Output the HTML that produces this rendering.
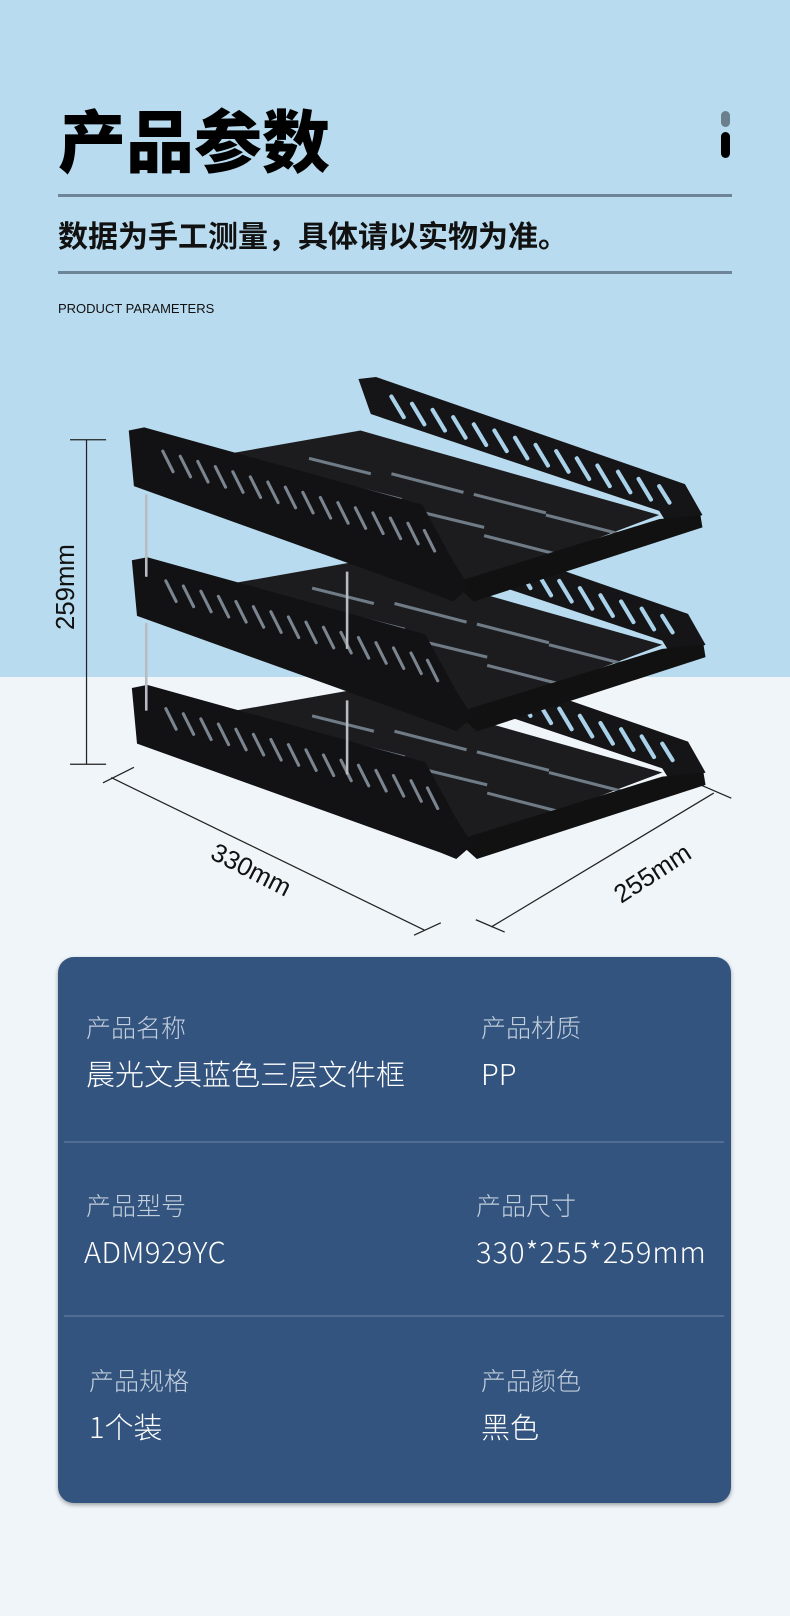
<!DOCTYPE html>
<html><head><meta charset="utf-8">
<style>
*{margin:0;padding:0;box-sizing:border-box}
body{width:790px;height:1616px;position:relative;overflow:hidden;background:#eff5f9;font-family:"Liberation Sans","Noto Sans CJK SC",sans-serif}
.top{position:absolute;left:0;top:0;width:790px;height:677px;background:#b8dbef}
.abs{position:absolute;white-space:nowrap}
.line{position:absolute;left:58px;width:674px;height:3px;background:#6d8597}
.card{position:absolute;left:58px;top:957px;width:673px;height:546px;background:#33547f;border-radius:16px;box-shadow:0 2px 4px rgba(0,0,0,.35)}
.div{position:absolute;left:6px;width:660px;height:2px;background:#4f6d95}
.lab{position:absolute;color:#c3cfdd;font-size:25px;font-family:"Noto Sans CJK SC",sans-serif;font-weight:300;white-space:nowrap;line-height:1}
.val{position:absolute;color:#fff;font-size:29px;font-family:"Noto Sans CJK SC",sans-serif;font-weight:300;white-space:nowrap;line-height:1}
</style></head><body>
<div class="top"></div>
<div class="abs" style="left:58px;top:104px;font-size:68px;font-weight:900;font-family:'Noto Sans CJK SC',sans-serif;line-height:1;color:#000">产品参数</div>
<div class="abs" style="left:721px;top:111px;width:9px;height:16px;border-radius:5px;background:#6c7f8c"></div>
<div class="abs" style="left:721px;top:132px;width:9px;height:26px;border-radius:5px;background:#000"></div>
<div class="line" style="top:194px"></div>
<div class="abs" style="left:58px;top:218px;font-size:30px;font-weight:700;font-family:'Noto Sans CJK SC',sans-serif;line-height:1.1;color:#111">数据为手工测量，具体请以实物为准。</div>
<div class="line" style="top:271px"></div>
<div class="abs" style="left:58px;top:301px;font-size:13px;color:#111">PRODUCT PARAMETERS</div>

<svg class="abs" style="left:0;top:0" width="790" height="1616" viewBox="0 0 767 1569">
 <g stroke="#222" stroke-width="1.2" fill="none">
  <line x1="84" y1="427" x2="84" y2="742"/><line x1="68" y1="427" x2="103" y2="427"/><line x1="68" y1="742" x2="103" y2="742"/>
  <line x1="108" y1="755" x2="412" y2="903"/><line x1="100" y1="760" x2="130" y2="745"/><line x1="402" y1="908" x2="428" y2="896"/>
  <line x1="477" y1="900" x2="693" y2="770"/><line x1="462" y1="893" x2="490" y2="905"/><line x1="680" y1="762" x2="710" y2="775"/>
 </g>
 <text x="0" y="0" transform="translate(72,570) rotate(-90)" text-anchor="middle" font-family="Liberation Sans,sans-serif" font-size="25" fill="#111">259mm</text>
 <text x="0" y="0" transform="translate(240,852) rotate(27)" text-anchor="middle" font-family="Liberation Sans,sans-serif" font-size="25" fill="#111">330mm</text>
 <text x="0" y="0" transform="translate(638,855) rotate(-33)" text-anchor="middle" font-family="Liberation Sans,sans-serif" font-size="25" fill="#111">255mm</text>
 <defs>
  <g id="tray">
   <polygon points="140,455 350,418 640,500 450,572" fill="#1c1c1e"/>
   <g stroke="#6f7b86" stroke-width="3">
    <line x1="250" y1="450" x2="300" y2="462"/><line x1="300" y1="445" x2="360" y2="460"/><line x1="330" y1="470" x2="390" y2="485"/><line x1="380" y1="460" x2="450" y2="478"/><line x1="400" y1="495" x2="470" y2="512"/><line x1="460" y1="480" x2="530" y2="498"/><line x1="470" y1="520" x2="540" y2="538"/><line x1="530" y1="500" x2="600" y2="518"/>
   </g>
   <polygon points="348,368 365,366 665,470 682,500 650,512 640,496 360,402" fill="#151517"/>
   <g stroke="#a9d2ea" stroke-width="4" stroke-linecap="round">
    <line x1="380" y1="385" x2="392" y2="405"/><line x1="400" y1="392" x2="412" y2="412"/><line x1="420" y1="398" x2="432" y2="418"/><line x1="440" y1="405" x2="452" y2="425"/><line x1="460" y1="412" x2="472" y2="432"/><line x1="480" y1="418" x2="492" y2="438"/><line x1="500" y1="425" x2="512" y2="445"/><line x1="520" y1="432" x2="532" y2="452"/><line x1="540" y1="438" x2="552" y2="458"/><line x1="560" y1="445" x2="572" y2="465"/><line x1="580" y1="452" x2="592" y2="472"/><line x1="600" y1="458" x2="612" y2="478"/><line x1="620" y1="465" x2="632" y2="485"/><line x1="640" y1="472" x2="650" y2="488"/>
   </g>
   <polygon points="440,566 640,504 680,500 682,512 460,584" fill="#111"/>
   <polygon points="125,418 140,415 410,490 440,545 456,570 440,584 425,578 130,472" fill="#121214"/>
   <g stroke="#7b8590" stroke-width="3" stroke-linecap="round">
    <line x1="158" y1="438" x2="168" y2="458"/><line x1="175" y1="443" x2="185" y2="463"/><line x1="192" y1="448" x2="202" y2="468"/><line x1="209" y1="453" x2="219" y2="473"/><line x1="226" y1="458" x2="236" y2="478"/><line x1="243" y1="463" x2="253" y2="483"/><line x1="260" y1="468" x2="270" y2="488"/><line x1="277" y1="473" x2="287" y2="493"/><line x1="294" y1="478" x2="304" y2="498"/><line x1="311" y1="483" x2="321" y2="503"/><line x1="328" y1="488" x2="338" y2="508"/><line x1="345" y1="493" x2="355" y2="513"/><line x1="362" y1="498" x2="372" y2="518"/><line x1="379" y1="503" x2="389" y2="523"/><line x1="396" y1="508" x2="406" y2="528"/><line x1="412" y1="515" x2="422" y2="535"/>
   </g>
  </g>
 </defs>
 <use href="#tray" transform="translate(3,250)"/>
 <line x1="142" y1="605" x2="142" y2="690" stroke="#b8bcc0" stroke-width="2.5"/>
 <line x1="337" y1="680" x2="337" y2="752" stroke="#b8bcc0" stroke-width="2.5"/>
 <use href="#tray" transform="translate(3,126)"/>
 <line x1="142" y1="480" x2="142" y2="560" stroke="#b8bcc0" stroke-width="2.5"/>
 <line x1="337" y1="555" x2="337" y2="630" stroke="#b8bcc0" stroke-width="2.5"/>
 <use href="#tray"/>
</svg>

<div class="card">
 <div class="lab" style="left:28px;top:58px">产品名称</div>
 <div class="val" style="left:28px;top:102px">晨光文具蓝色三层文件框</div>
 <div class="lab" style="left:423px;top:58px">产品材质</div>
 <div class="val" style="left:423px;top:102px">PP</div>
 <div class="div" style="top:184px"></div>
 <div class="lab" style="left:28px;top:236px">产品型号</div>
 <div class="val" style="left:26px;top:280px;letter-spacing:0.5px">ADM929YC</div>
 <div class="lab" style="left:418px;top:236px">产品尺寸</div>
 <div class="val" style="left:418px;top:280px;letter-spacing:1px">330*255*259mm</div>
 <div class="div" style="top:358px"></div>
 <div class="lab" style="left:31px;top:411px">产品规格</div>
 <div class="val" style="left:31px;top:455px">1个装</div>
 <div class="lab" style="left:423px;top:411px">产品颜色</div>
 <div class="val" style="left:423px;top:455px">黑色</div>
</div>
</body></html>
